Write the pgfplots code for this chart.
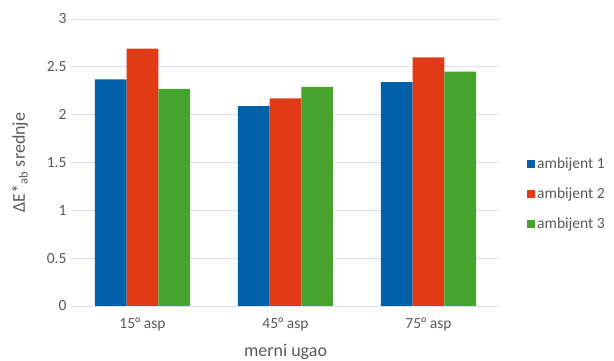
\documentclass[border=0pt]{standalone}
\usepackage{fontspec}
\setmainfont{Carlito}
\usepackage{pgfplots}
\pgfplotsset{compat=1.18}
\definecolor{cblue}{RGB}{0,96,168}
\definecolor{cred}{RGB}{224,58,22}
\definecolor{cgreen}{RGB}{70,163,46}
\definecolor{cgrid}{RGB}{220,220,242}
\definecolor{ctext}{RGB}{89,89,89}
\begin{document}
\begin{tikzpicture}
\path[use as bounding box] (0,0) rectangle (614bp,361bp);
\begin{axis}[
  at={(71bp,55bp)}, anchor=south west,
  scale only axis, width=429bp, height=287bp,
  xmin=-0.5, xmax=2.5, ymin=0, ymax=3,
  xtick={0,1,2}, xticklabels={15° asp,45° asp,75° asp},
  ytick={0,0.5,1,1.5,2,2.5,3},
  /pgf/number format/assume math mode=true,
  major tick length=0pt,
  axis x line*=bottom, axis y line*=left,
  x axis line style={cgrid, line width=0.8pt, -},
  y axis line style={draw=none},
  ymajorgrids, grid style={cgrid, line width=0.8pt},
  ticklabel style={font=\fontsize{15.5bp}{18bp}\selectfont, text=ctext},
  yticklabel style={xshift=-1bp},
  xticklabel style={yshift=-8bp},
  xlabel={merni ugao},
  ylabel={ΔE*\textsubscript{ab} srednje},
  label style={font=\fontsize{18bp}{21bp}\selectfont, text=ctext},
  xlabel style={at={(axis description cs:0.5,0)}, anchor=base, yshift=-50bp},
  ylabel style={at={(axis description cs:0,0.5)}, anchor=center, rotate=0, yshift=51bp},
  bar width=0.2217,
  legend style={at={(1.063,0.39)}, anchor=west, draw=none, fill=none,
    font=\fontsize{15.5bp}{18bp}\selectfont, text=ctext, row sep=14bp,
    inner xsep=0pt, nodes={inner xsep=2bp}},
  legend cell align=left,
  legend image code/.code={\fill[#1, draw=none] (0bp,-4bp) rectangle (8bp,4bp);},
]
\addplot[ybar, bar shift=-0.2217, fill=cblue, draw=none] coordinates {(0,2.37) (1,2.09) (2,2.34)};
\addplot[ybar, bar shift=0, fill=cred, draw=none] coordinates {(0,2.69) (1,2.17) (2,2.60)};
\addplot[ybar, bar shift=0.2217, fill=cgreen, draw=none] coordinates {(0,2.27) (1,2.29) (2,2.45)};
\legend{ambijent 1, ambijent 2, ambijent 3}
\end{axis}
\end{tikzpicture}
\end{document}
